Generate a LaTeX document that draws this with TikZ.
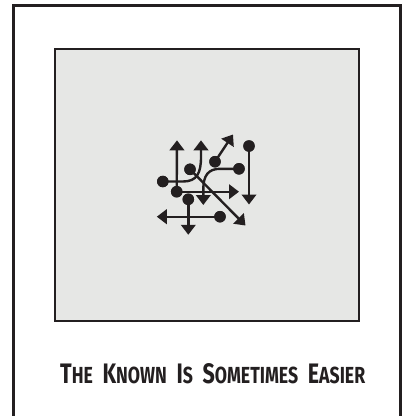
\documentclass[tikz,border=0pt]{standalone}
\usepackage{fontspec}
\setmainfont{Fira Sans}
\usetikzlibrary{arrows.meta}
\definecolor{ink}{HTML}{231F20}
\definecolor{panel}{HTML}{E6E7E5}
\newcommand{\capword}[2]{{\fontsize{20}{20}\selectfont #1}{\fontsize{16.5}{16.5}\selectfont #2}}
\newcommand{\wgap}{\hspace{9pt}}
\begin{document}
\begin{tikzpicture}[x=1pt,y=-1pt,
  frameline/.style={draw=ink,line width=2.6pt},
  panelbox/.style={draw=ink,line width=2.2pt,fill=panel},
  dotn/.style={circle,fill=ink,inner sep=0pt,minimum size=11.5pt},
  arr/.style={draw=ink,line width=2.4pt,-{Triangle[width=14.5pt,length=10pt]}},
  caption/.style={inner sep=0pt,anchor=base west,text=ink}]
\useasboundingbox (0,0) rectangle (404,416);
\fill[white] (0,0) rectangle (404,416);
\draw[frameline] (13.5,420) -- (13.5,5.3) -- (400.5,5.3) -- (400.5,420);
\draw[panelbox] (55.3,49) rectangle (359,320.7);
% dots
\node[dotn] (d1) at (162.8,181.5) {};
\node[dotn] (d2) at (190,169.3) {};
\node[dotn] (d3) at (215,161.7) {};
\node[dotn] (d4) at (239,168.8) {};
\node[dotn] (d5) at (249,146) {};
\node[dotn] (d6) at (176.7,191.7) {};
\node[dotn] (d7) at (188.3,199.3) {};
\node[dotn] (d8) at (220,216.7) {};
% arrow tips
\coordinate (t1) at (177,140.3);
\coordinate (t2) at (201,140.3);
\coordinate (t3) at (245.5,225.5);
\coordinate (t4) at (233,134.5);
\coordinate (t5) at (203.3,205);
\coordinate (t6) at (249,204.5);
\coordinate (t7) at (239,191.7);
\coordinate (t8) at (188.3,234.8);
\coordinate (t9) at (156.8,216.7);
% connectors
\draw[arr] (d6.center) -- (t1);
\draw[arr] (d1.center) -- (183,181.5) .. controls (197,181.5) and (201,173) .. (201,157) -- (t2);
\draw[arr] (d2.center) -- (t3);
\draw[arr] (d3.center) -- (t4);
\draw[arr] (d4.center) -- (220,168.8) .. controls (208,168.8) and (203.3,176) .. (203.3,189) -- (t5);
\draw[arr] (d5.center) -- (t6);
\draw[arr] (d6.center) -- (t7);
\draw[arr] (d7.center) -- (t8);
\draw[arr] (d8.center) -- (t9);
% dots above lines
\foreach \d in {d1,d2,d3,d4,d5,d6,d7,d8} \fill[ink] (\d) circle (5.75pt);
\node[caption] (cap) at (60,383) {\resizebox{305pt}{20pt}{\bfseries\capword{T}{HE}\wgap\capword{K}{NOWN}\wgap\capword{I}{S}\wgap\capword{S}{OMETIMES}\wgap\capword{E}{ASIER}}};
\end{tikzpicture}
\end{document}
